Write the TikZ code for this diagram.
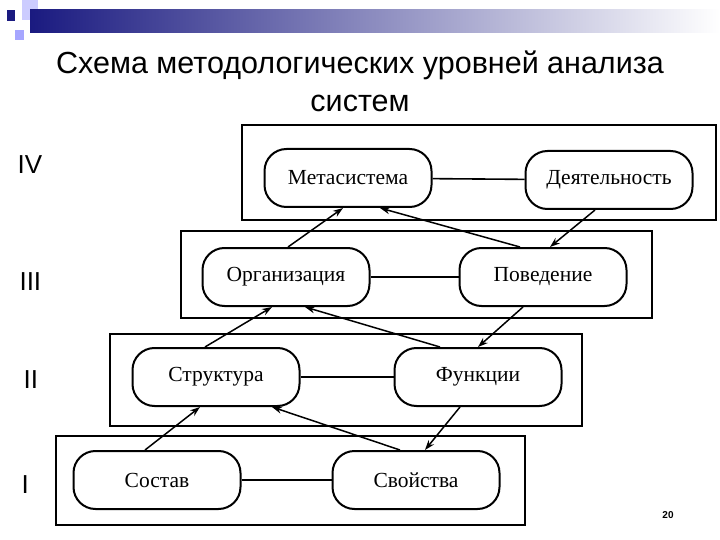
\documentclass[tikz,border=0pt]{standalone}
\usepackage{fontspec}
\setmainfont{Liberation Sans}
\newfontfamily\serifnode{Liberation Serif}
\usetikzlibrary{arrows.meta}
\definecolor{bardark}{RGB}{26,26,128}
\begin{document}
\begin{tikzpicture}[x=1pt,y=-1pt,
  frame/.style={draw,line width=1.6pt},
  box/.style={draw,line width=2pt,rounded corners=22pt,minimum width=167pt,minimum height=58pt,font=\serifnode\fontsize{21.5}{22}\selectfont,inner sep=0pt},
  link/.style={line width=1.6pt},
  arr/.style={line width=1.5pt,-{Stealth[length=10pt,width=7pt]}},
  lvl/.style={font=\fontsize{26}{28}\selectfont,anchor=west}]
\useasboundingbox (0,0) rectangle (720,540);
\fill[white] (0,0) rectangle (720,540);
% decoration
\fill[blue!20!white] (22,0) rectangle (38,20);
\fill[blue!35!white] (15,30) rectangle (24,40);
\shade[left color=bardark,right color=white] (30,10) rectangle (720,33);
\fill[bardark] (7,10) rectangle (15,21);
% title
\node[font=\fontsize{30.5}{38}\selectfont,align=center] (title) at (360,81) {Схема методологических уровней анализа\\систем};
% frames
\draw[frame] (242,125) rectangle (716,220);
\draw[frame] (181,231) rectangle (652,318);
\draw[frame] (110,334) rectangle (582,426);
\draw[frame] (56,436) rectangle (525,525);
% level labels
\node[lvl] (l4) at (14,165) {IV};
\node[lvl] (l3) at (16,282) {III};
\node[lvl] (l2) at (20,380) {II};
\node[lvl] (l1) at (18,485) {I};
% nodes
\node[box] (meta) at (348,178) {Метасистема};
\node[box] (deya) at (609,180) {Деятельность};
\node[box] (org) at (286,277) {Организация};
\node[box] (pov) at (543,277) {Поведение};
\node[box] (str) at (216,377) {Структура};
\node[box] (fun) at (478,377) {Функции};
\node[box] (sos) at (157,480) {Состав};
\node[box] (svo) at (416,480) {Свойства};
% horizontal links
\draw[link] (meta) -- (deya);
\draw[link] (org) -- (pov);
\draw[link] (str) -- (fun);
\draw[link] (sos) -- (svo);
% arrows
\draw[arr] ([xshift=2pt]org.north) -- ([xshift=-5pt]meta.south);
\draw[arr] ([xshift=-23pt]pov.north) -- ([xshift=32pt]meta.south);
\draw[arr] ([xshift=-14pt]deya.south) -- ([xshift=7pt]pov.north);
\draw[arr] ([xshift=-11pt]str.north) -- ([xshift=-14pt]org.south);
\draw[arr] ([xshift=-38pt]fun.north) -- ([xshift=19pt]org.south);
\draw[arr] ([xshift=-20pt]pov.south) -- ([xshift=0pt]fun.north);
\draw[arr] ([xshift=-12pt]sos.north) -- ([xshift=-16pt]str.south);
\draw[arr] ([xshift=-16pt]svo.north) -- ([xshift=56pt]str.south);
\draw[arr] ([xshift=-18pt]fun.south) -- ([xshift=9pt]svo.north);
% page number
\node[font=\bfseries\fontsize{10}{12}\selectfont] (pg) at (668,515) {20};
\end{tikzpicture}
\end{document}
